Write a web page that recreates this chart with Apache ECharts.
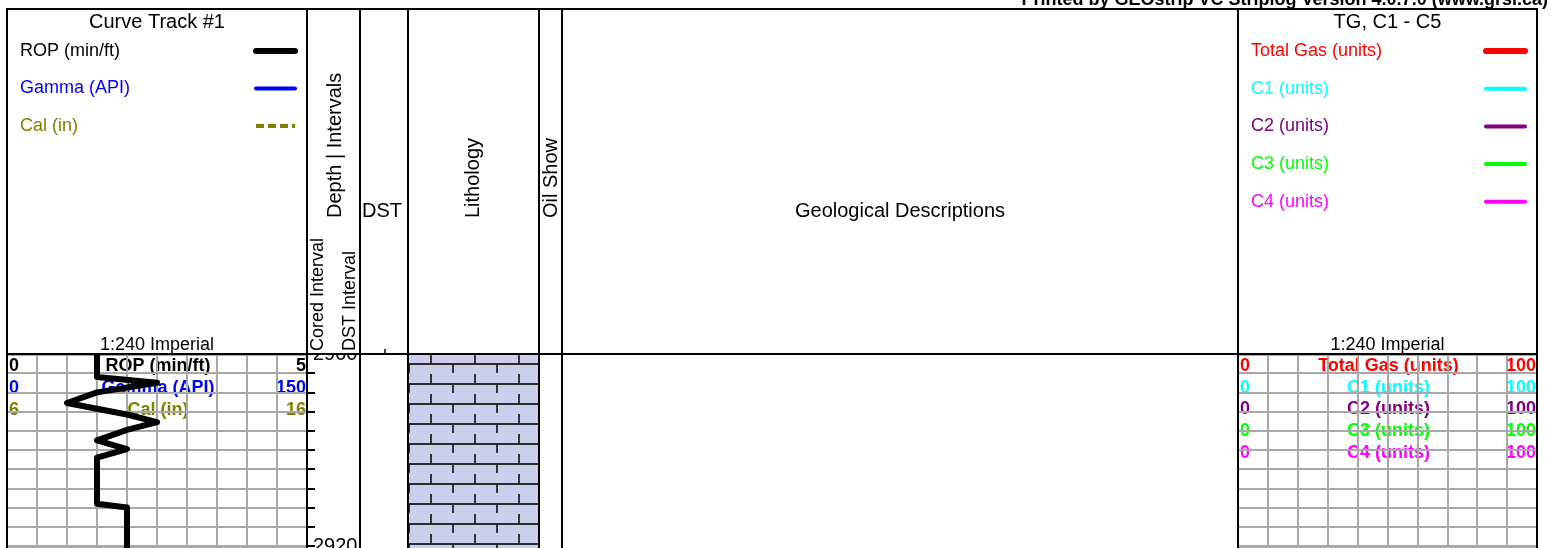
<!DOCTYPE html>
<html>
<head>
<meta charset="utf-8">
<title>Striplog 2900 - 2920</title>
<script src="https://cdn.jsdelivr.net/npm/echarts@6/dist/echarts.min.js"></script>
<style>
  html, body { margin: 0; padding: 0; background: #fff; }
  #chart { width: 1551px; height: 548px; }
</style>
</head>
<body>
<div id="chart"></div>
<script>
// depth window on this page (ft)
const depthTop = 2900
const depthBase = 2920
const depthStep = 2

// ROP curve of track #1 (depth ft / min per ft)
const ropDepth = [2900, 2902.4, 2903, 2904, 2905.1, 2906.3, 2907.1, 2907.9, 2909, 2909.9, 2910.8, 2915.6, 2916, 2921]
const ropValue = [1.5, 1.5, 2.5, 1.5, 1.0, 2.0, 2.5, 2.0, 1.5, 2.0, 1.5, 1.5, 2.0, 2.0]

// curve track #1 scales
const curveNames = ['ROP (min/ft)', 'Gamma (API)', 'Cal (in)']
const curveMin = [0, 0, 6]
const curveMax = [5, 150, 16]

// gas track scales
const gasNames = ['Total Gas (units)', 'C1 (units)', 'C2 (units)', 'C3 (units)', 'C4 (units)']
const gasMin = [0, 0, 0, 0, 0]
const gasMax = [100, 100, 100, 100, 100]

// lithology intervals
const lithTop = [2900]
const lithBase = [2921]
const lithType = ['limestone']

// ---- styles / layout ----
const curveColors = ['#000000', '#0000ff', '#808000']
const gasColors = ['#ff0000', '#00ffff', '#800080', '#00ff00', '#ff00ff']
const FONT = '"Liberation Sans", Arial, Helvetica, sans-serif'
const gridGray = '#a8a8a8'
const lithFill = '#cbcfec'

// column edges (px)
const colX = [7, 307, 360, 408, 539, 562, 1238, 1537]
const headTop = 9
const headBottom = 354
const pxPerFt = 9.6
const trackH = (depthBase - depthTop) * pxPerFt

function limestone() {
    const c = document.createElement('canvas')
    c.width = 44
    c.height = 20
    const g = c.getContext('2d')
    g.fillStyle = lithFill
    g.fillRect(0, 0, 44, 20)
    g.fillStyle = '#2a2a2a'
    g.fillRect(0, 3, 44, 2)     // bedding line
    g.fillStyle = '#333'
    g.fillRect(12, 5, 2, 8)     // upper marks
    g.fillRect(34, 14, 2, 6)    // lower marks (wrap)
    g.fillRect(34, 0, 2, 3)
    return c
}
const lithPatterns = { limestone: { image: limestone(), repeat: 'repeat' } }

function txt(x, y, text, size, color, opt) {
    opt = opt || {}
    return {
        type: 'text', x: x, y: y, z: opt.z != null ? opt.z : 101,
        rotation: opt.rot || 0,
        style: {
            text: text,
            font: (opt.bold ? 'bold ' : '') + size + 'px ' + FONT,
            fill: color,
            align: opt.align || 'center',
            verticalAlign: 'middle'
        }
    }
}
function seg(x1, y1, x2, y2, color, w, extra) {
    return {
        type: 'line', z: 100,
        shape: { x1: x1, y1: y1, x2: x2, y2: y2 },
        style: Object.assign({ stroke: color, lineWidth: w }, extra || {})
    }
}

const graphics = []
// white header cover (hides upper half of the 2900 label)
graphics.push({ type: 'rect', z: 99, shape: { x: colX[0], y: headTop, width: colX[7] - colX[0], height: headBottom - headTop - 1 }, style: { fill: '#fff' } })
// frame
graphics.push(seg(colX[0] - 1, headTop, colX[7] + 1, headTop, '#000', 2))
graphics.push(seg(colX[0] - 1, headBottom, colX[7] + 1, headBottom, '#000', 2))
colX.forEach(x => graphics.push(seg(x, headTop, x, 548, '#000', 2)))
graphics.push(seg(385, headBottom - 5, 385, headBottom, '#000', 1.5))

// top banner
graphics.push(txt(1548, 0, 'Printed by GEOstrip VC Striplog Version 4.0.7.0 (www.grsi.ca)', 18, '#000', { bold: true, align: 'right' }))

// curve track header
const ctMid = (colX[0] + colX[1]) / 2
graphics.push(txt(ctMid, 22, 'Curve Track #1', 20, '#000'))
graphics.push(txt(ctMid, 345, '1:240 Imperial', 18, '#000'))
curveNames.forEach((n, i) => {
    const y = 51 + i * 37.5
    graphics.push(txt(20, y, n, 18, curveColors[i], { align: 'left' }))
    graphics.push(seg(256, y, 295, y, curveColors[i], i === 0 ? 6 : 4,
        i === 2 ? { lineDash: [8, 4], lineCap: 'butt' } : { lineCap: 'round' }))
    // scale labels inside the track
    const sy = 366 + i * 22
    graphics.push(txt(colX[0] + 2, sy, String(curveMin[i]), 18, curveColors[i], { bold: true, align: 'left', z: -1 }))
    graphics.push(txt(ctMid + 1, sy, n, 18, curveColors[i], { bold: true, z: -1 }))
    graphics.push(txt(colX[1] - 1, sy, String(curveMax[i]), 18, curveColors[i], { bold: true, align: 'right', z: -1 }))
})

// gas track header
const gtMid = (colX[6] + colX[7]) / 2
graphics.push(txt(gtMid, 22, 'TG, C1 - C5', 20, '#000'))
graphics.push(txt(gtMid, 345, '1:240 Imperial', 18, '#000'))
gasNames.forEach((n, i) => {
    const y = 51 + i * 37.7
    graphics.push(txt(1251, y, n, 18, gasColors[i], { align: 'left' }))
    graphics.push(seg(1486, y, 1525, y, gasColors[i], i === 0 ? 6 : 4, { lineCap: 'round' }))
    const sy = 366 + i * 21.7
    graphics.push(txt(colX[6] + 2, sy, String(gasMin[i]), 18, gasColors[i], { bold: true, align: 'left', z: -1 }))
    graphics.push(txt(gtMid + 1, sy, n, 18, gasColors[i], { bold: true, z: -1 }))
    graphics.push(txt(colX[7] - 1, sy, String(gasMax[i]), 18, gasColors[i], { bold: true, align: 'right', z: -1 }))
})

// middle column headers (text reads bottom to top)
const up = Math.PI / 2
graphics.push(txt(335, 218, 'Depth | Intervals', 20, '#000', { rot: up, align: 'left' }))
graphics.push(txt(318, 351, 'Cored Interval', 18, '#000', { rot: up, align: 'left' }))
graphics.push(txt(350, 351, 'DST Interval', 18, '#000', { rot: up, align: 'left' }))
graphics.push(txt(362, 211, 'DST', 20, '#000', { align: 'left' }))
graphics.push(txt(473, 218, 'Lithology', 20, '#000', { rot: up, align: 'left' }))
graphics.push(txt(551, 218, 'Oil Show', 20, '#000', { rot: up, align: 'left' }))
graphics.push(txt(900, 211, 'Geological Descriptions', 20, '#000'))

// ---- grids ----
function grid(left, width) {
    return { left: left, top: headBottom, width: width, height: trackH, outerBoundsMode: 'none', containLabel: false }
}
const hidden = { axisLine: { show: false }, axisTick: { show: false }, axisLabel: { show: false }, splitLine: { show: false } }

function trackX(gi, min, max, interval) {
    return {
        gridIndex: gi, type: 'value', min: min, max: max, interval: interval,
        axisLine: { show: false }, axisTick: { show: false }, axisLabel: { show: false },
        splitLine: { show: true, lineStyle: { color: gridGray, width: 2 } }
    }
}
function trackY(gi) {
    return {
        gridIndex: gi, type: 'value', inverse: true, min: depthTop, max: depthBase,
        interval: depthBase - depthTop,
        axisLine: { show: false }, axisTick: { show: false }, axisLabel: { show: false },
        splitLine: { show: true, lineStyle: { color: gridGray, width: 3 } },
        minorTick: { show: false, splitNumber: (depthBase - depthTop) / depthStep },
        minorSplitLine: { show: true, lineStyle: { color: gridGray, width: 2 } }
    }
}
function plainY(gi) {
    return Object.assign({ gridIndex: gi, type: 'value', inverse: true, min: depthTop, max: depthBase }, hidden)
}

const option = {
    backgroundColor: '#fff',
    animation: false,
    grid: [
        grid(colX[0], colX[1] - colX[0]),          // curve track
        grid(colX[1], colX[2] - colX[1]),          // depth
        grid(colX[3], colX[4] - colX[3]),          // lithology
        grid(colX[6], colX[7] - colX[6])           // gas track
    ],
    xAxis: [
        trackX(0, curveMin[0], curveMax[0], (curveMax[0] - curveMin[0]) / 10),
        Object.assign({ gridIndex: 1, type: 'value', min: 0, max: 1 }, hidden),
        Object.assign({ gridIndex: 2, type: 'value', min: 0, max: 1 }, hidden),
        trackX(3, gasMin[0], gasMax[0], (gasMax[0] - gasMin[0]) / 10)
    ],
    yAxis: [
        trackY(0),
        {
            gridIndex: 1, type: 'value', inverse: true, min: depthTop, max: depthBase, interval: depthStep,
            axisLine: { show: false },
            axisTick: { show: true, inside: true, length: 8, lineStyle: { color: '#000', width: 2 } },
            axisLabel: {
                show: true, inside: true, margin: 6, fontSize: 20, fontFamily: FONT, color: '#000',
                formatter: v => ((v - depthTop) % 20 === 0 ? String(v) : '')
            },
            splitLine: { show: false }
        },
        plainY(2),
        trackY(3)
    ],
    series: [
        {
            name: curveNames[0], type: 'line', xAxisIndex: 0, yAxisIndex: 0,
            data: ropDepth.map((d, i) => [ropValue[i], d]),
            symbol: 'none', clip: false, z: 3,
            lineStyle: { color: curveColors[0], width: 6, join: 'round', cap: 'round' }
        },
        {
            name: 'Lithology', type: 'custom', xAxisIndex: 2, yAxisIndex: 2, clip: false,
            data: lithTop.map((t, i) => [t, lithBase[i]]),
            renderItem: function (params, api) {
                const a = api.coord([0, api.value(0)])
                const b = api.coord([1, api.value(1)])
                return {
                    type: 'rect',
                    shape: { x: a[0], y: a[1], width: b[0] - a[0], height: b[1] - a[1] },
                    style: { fill: lithPatterns[lithType[params.dataIndex]] }
                }
            }
        },
        // gas curves: no readings in this interval
        ...gasNames.map((n, i) => ({
            name: n, type: 'line', xAxisIndex: 3, yAxisIndex: 3, data: [],
            symbol: 'none', lineStyle: { color: gasColors[i], width: 3 }
        }))
    ],
    graphic: graphics
}

const chart = echarts.init(document.getElementById('chart'))
chart.setOption(option)
</script>
</body>
</html>
